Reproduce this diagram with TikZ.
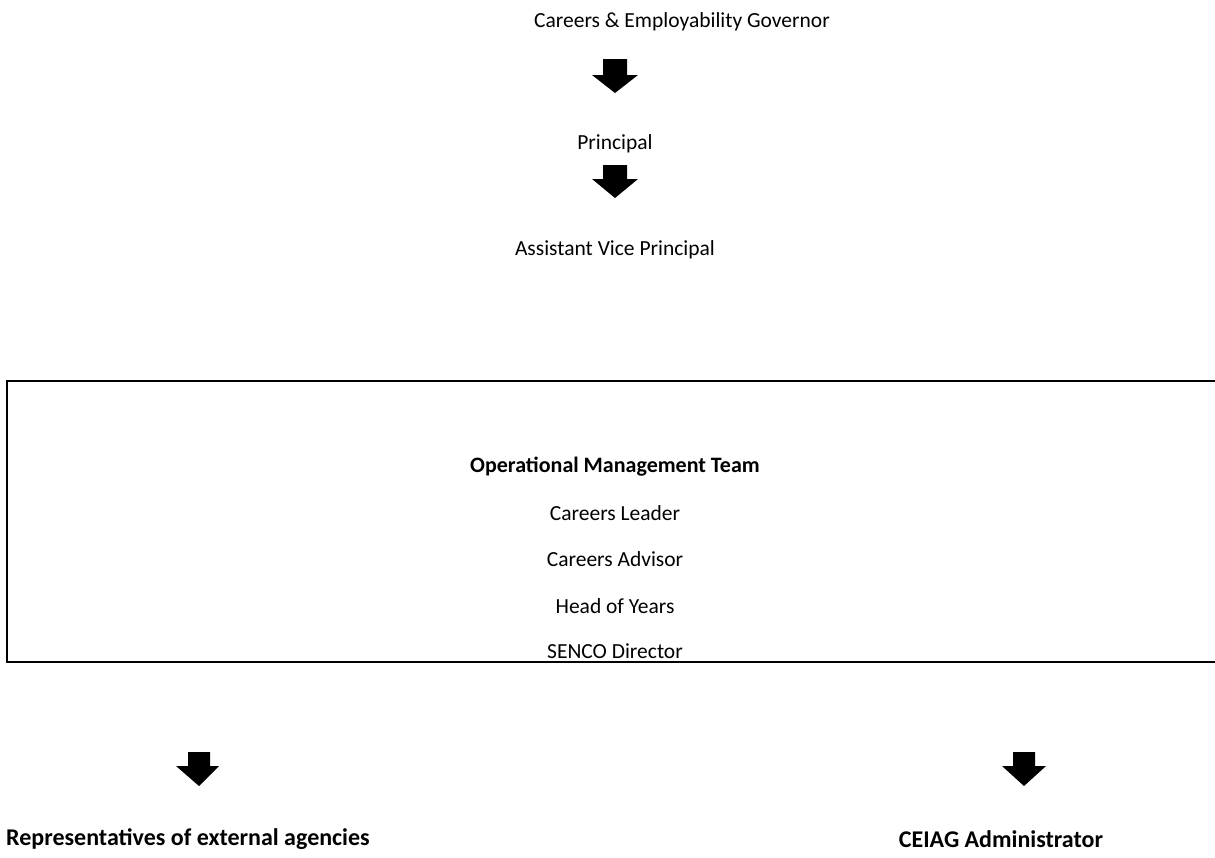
\documentclass[tikz,border=0pt]{standalone}
\usepackage{fontspec}
\setmainfont{Carlito}
\begin{document}
\begin{tikzpicture}[x=1pt,y=-1pt,
  lbl/.style={inner sep=0pt,anchor=center,font=\fontsize{21.5}{25}\selectfont},
  blbl/.style={inner sep=0pt,anchor=center,font=\fontsize{22}{26}\selectfont\bfseries},
  foot/.style={inner sep=0pt,font=\fontsize{24}{28}\selectfont\bfseries},
  blk/.style={fill=black},
  frame/.style={draw=black,line width=2pt}]
\useasboundingbox (0,0) rectangle (1215,857);
\node[lbl] (gov) at (682,22) {Careers \& Employability Governor};
\node[lbl] (prin) at (615,144) {Principal};
\node[lbl] (avp) at (615,250) {Assistant Vice Principal};
\draw[frame] (1216,381) -- (7,381) -- (7,662) -- (1216,662);
\node[blbl] (omt) at (615,467) {Operational Management Team};
\node[lbl] (cl) at (615,513) {Careers Leader};
\node[lbl] (ca) at (615,559) {Careers Advisor};
\node[lbl] (hoy) at (615,606) {Head of Years};
\node[lbl] (senco) at (615,651) {SENCO Director};
\node[foot,anchor=west] (rep) at (6,839) {Representatives of external agencies};
\node[foot,anchor=center] (ceiag) at (1001,839) {CEIAG Administrator};
\fill[blk] (603,59) -- (627,59) -- (627,75) -- (638,75) -- (615,93) -- (592,75) -- (603,75) -- cycle;
\fill[blk] (603,165) -- (627,165) -- (627,179) -- (638,179) -- (615,198) -- (592,179) -- (603,179) -- cycle;
\fill[blk] (188,752) -- (210,752) -- (210,766) -- (219,766) -- (199,786) -- (176,766) -- (188,766) -- cycle;
\fill[blk] (1013,752) -- (1035,752) -- (1035,766) -- (1046,766) -- (1024,786) -- (1002,766) -- (1013,766) -- cycle;
\end{tikzpicture}
\end{document}
